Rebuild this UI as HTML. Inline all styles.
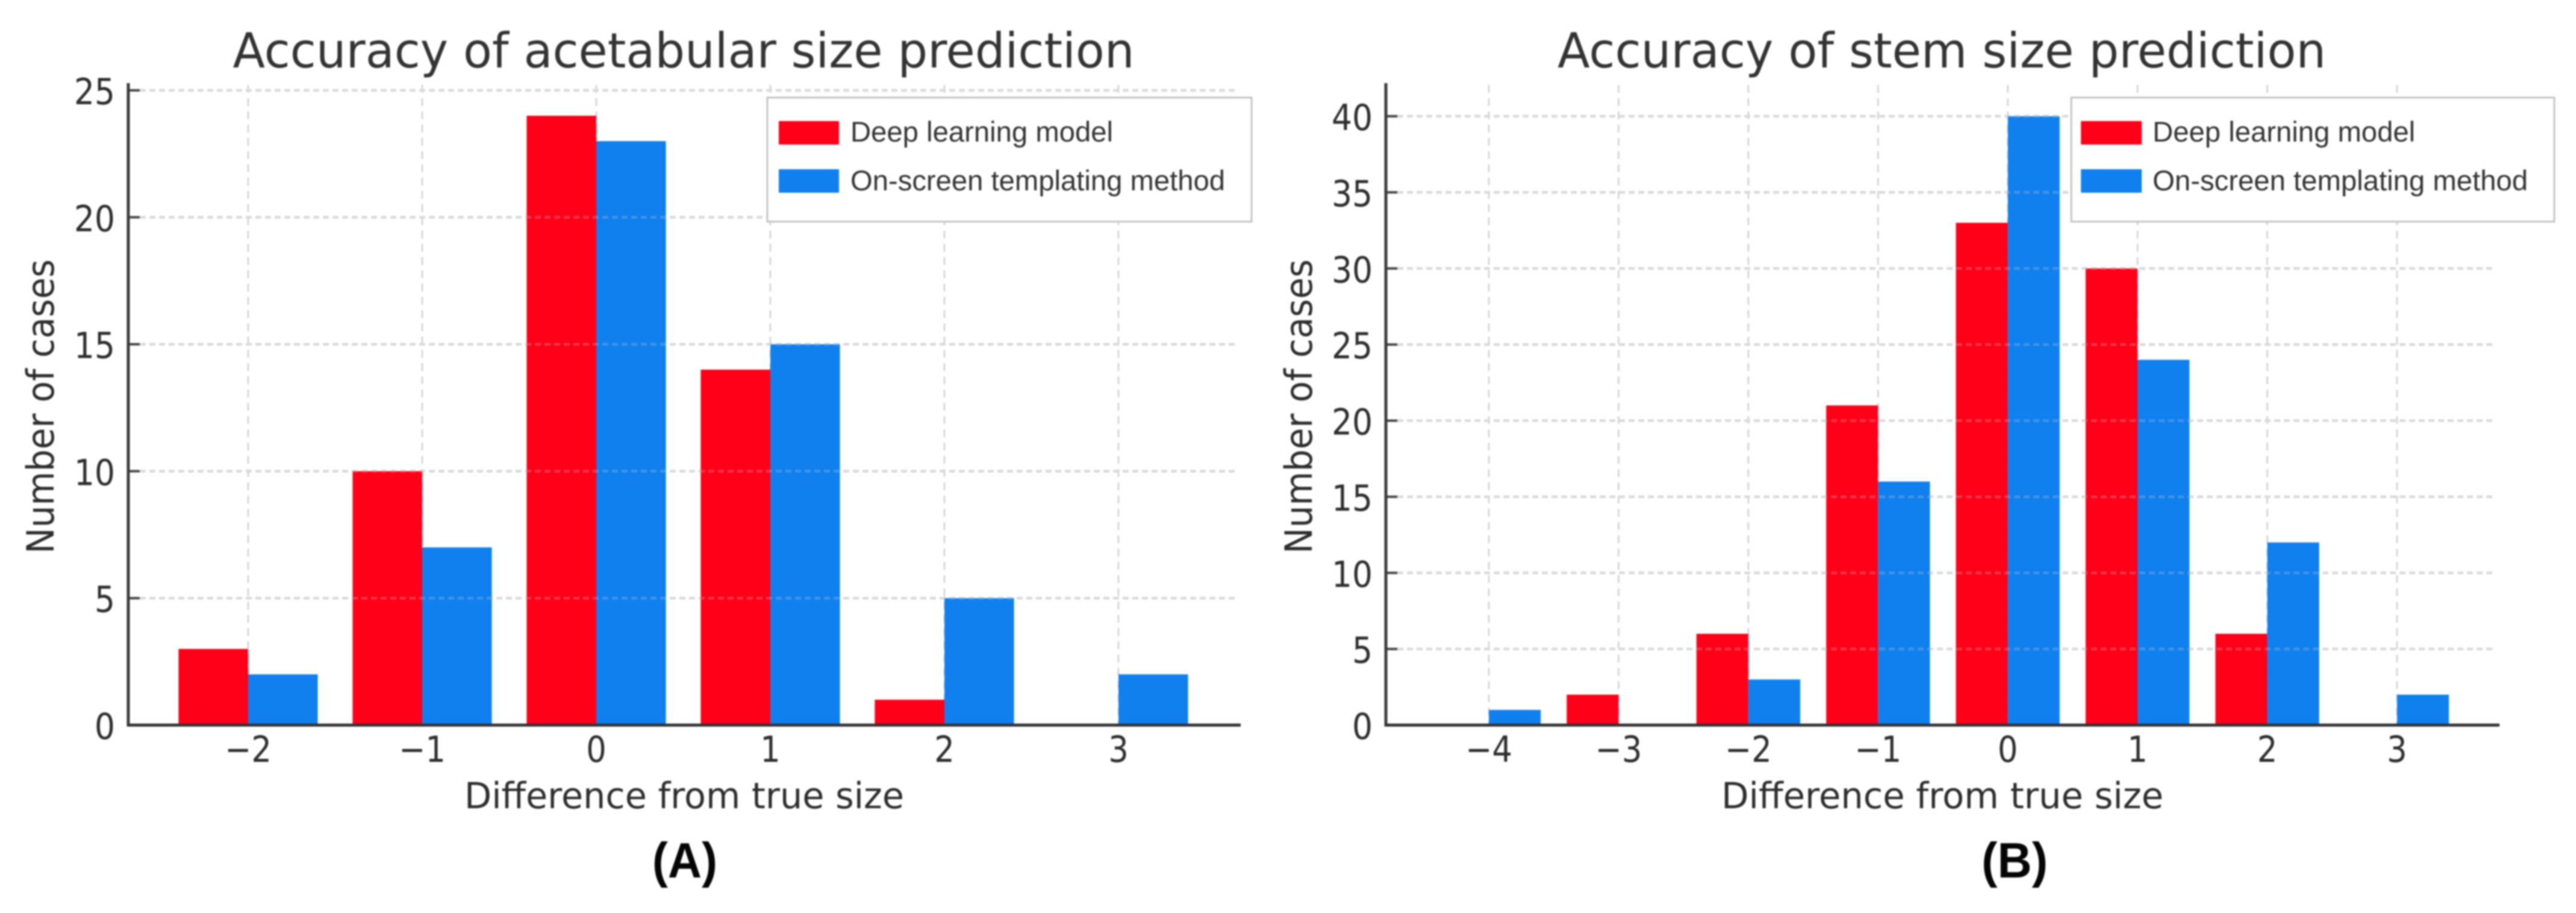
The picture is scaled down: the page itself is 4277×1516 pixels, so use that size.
<!DOCTYPE html>
<html>
<head>
<meta charset="utf-8">
<title>Accuracy of size prediction</title>
<style>
html,body{margin:0;padding:0;background:#fff;}
svg{display:block;filter:blur(1.4px);}
text{font-family:"DejaVu Sans",sans-serif;fill:#2d2d2d;}
.lg{font-family:"Liberation Sans",sans-serif;font-size:47px;fill:#333;}
.bold{font-family:"Liberation Sans",sans-serif;font-weight:bold;font-size:83px;fill:#050505;}
</style>
</head>
<body>
<svg id="figure" xmlns="http://www.w3.org/2000/svg" width="4277" height="1516" viewBox="0 0 4277 1516">
<rect width="4277" height="1516" fill="#fff"/>
<g id="panel-a">
  <g id="a-grid"></g>
  <g id="a-bars"></g>
  <g id="a-overgrid"></g>
  <g id="a-axes"></g>
  <text x="1135" y="112" font-size="80" text-anchor="middle" textLength="1497" lengthAdjust="spacingAndGlyphs" style="fill:#333">Accuracy of acetabular size prediction</text>
  <text x="1136" y="1342" font-size="60" text-anchor="middle" textLength="730" lengthAdjust="spacingAndGlyphs">Difference from true size</text>
  <text transform="translate(89,675) rotate(-90)" font-size="62" text-anchor="middle" textLength="489" lengthAdjust="spacingAndGlyphs">Number of cases</text>
  <g>
    <rect x="1274" y="162" width="804" height="206" fill="#fff" stroke="#c4c4c4" stroke-width="3"/>
    <rect x="1293" y="201" width="100" height="39" fill="#ff0018"/>
    <text class="lg" x="1412" y="235" textLength="436" lengthAdjust="spacingAndGlyphs">Deep learning model</text>
    <rect x="1293" y="281" width="100" height="39" fill="#1080ee"/>
    <text class="lg" x="1412" y="316" textLength="622" lengthAdjust="spacingAndGlyphs">On-screen templating method</text>
  </g>
  <text class="bold" x="1137" y="1457" text-anchor="middle" textLength="108" lengthAdjust="spacingAndGlyphs">(A)</text>
</g>
<g id="panel-b">
  <g id="b-grid"></g>
  <g id="b-bars"></g>
  <g id="b-overgrid"></g>
  <g id="b-axes"></g>
  <text x="3224" y="112" font-size="80" text-anchor="middle" textLength="1276" lengthAdjust="spacingAndGlyphs" style="fill:#333">Accuracy of stem size prediction</text>
  <text x="3225" y="1342" font-size="60" text-anchor="middle" textLength="734" lengthAdjust="spacingAndGlyphs">Difference from true size</text>
  <text transform="translate(2178,675) rotate(-90)" font-size="62" text-anchor="middle" textLength="489" lengthAdjust="spacingAndGlyphs">Number of cases</text>
  <g>
    <rect x="3439" y="162" width="802" height="206" fill="#fff" stroke="#c4c4c4" stroke-width="3"/>
    <rect x="3455" y="201" width="101" height="39" fill="#ff0018"/>
    <text class="lg" x="3574" y="235" textLength="436" lengthAdjust="spacingAndGlyphs">Deep learning model</text>
    <rect x="3455" y="281" width="101" height="39" fill="#1080ee"/>
    <text class="lg" x="3574" y="316" textLength="623" lengthAdjust="spacingAndGlyphs">On-screen templating method</text>
  </g>
  <text class="bold" x="3345" y="1457" text-anchor="middle" textLength="110" lengthAdjust="spacingAndGlyphs">(B)</text>
</g>
</svg>
<script>
const acetabularCategories = [-2, -1, 0, 1, 2, 3];
const acetabularCategoryLabels = ["\u22122", "\u22121", "0", "1", "2", "3"];
const acetabularDeepLearning = [3, 10, 24, 14, 1, 0];
const acetabularTemplating = [2, 7, 23, 15, 5, 2];
const acetabularYTicks = [0, 5, 10, 15, 20, 25];

const stemCategories = [-4, -3, -2, -1, 0, 1, 2, 3];
const stemCategoryLabels = ["\u22124", "\u22123", "\u22122", "\u22121", "0", "1", "2", "3"];
const stemDeepLearning = [0, 2, 6, 21, 33, 30, 6, 0];
const stemTemplating = [1, 0, 3, 16, 40, 24, 12, 2];
const stemYTicks = [0, 5, 10, 15, 20, 25, 30, 35, 40];

const SVG_NS = "http://www.w3.org/2000/svg";
function make(tag, attrs, parent) {
  const el = document.createElementNS(SVG_NS, tag);
  for (const k in attrs) el.setAttribute(k, attrs[k]);
  parent.appendChild(el);
  return el;
}

function drawPanel(prefix, categories, labels, seriesRed, seriesBlue, yTicks, layout) {
  const xScale = v => layout.xFirst + (v - categories[0]) * layout.xUnit;
  const yScale = v => layout.yZero - v * layout.yUnit;
  const barWidth = layout.xUnit * 0.4;
  const grid = document.getElementById(prefix + "-grid");
  const bars = document.getElementById(prefix + "-bars");
  const over = document.getElementById(prefix + "-overgrid");
  const axes = document.getElementById(prefix + "-axes");

  categories.forEach(function (c, i) {
    const gv = make("line", {x1: xScale(c), x2: xScale(c), y1: layout.yTop + 3, y2: layout.yZero, stroke: "#d6d6d6", "stroke-width": 3, "stroke-dasharray": "13 9"}, grid);
    
    

    const redH = layout.yZero - yScale(seriesRed[i]);
    const red = make("rect", {x: xScale(c) - barWidth, y: yScale(seriesRed[i]), width: barWidth, height: redH, fill: "#ff0018"}, bars);
    
    

    const blueH = layout.yZero - yScale(seriesBlue[i]);
    const blue = make("rect", {x: xScale(c), y: yScale(seriesBlue[i]), width: barWidth, height: blueH, fill: "#1080ee"}, bars);
    
    

    const lab = make("text", {transform: "translate(" + xScale(c) + "," + (layout.yZero + 61) + ") scale(0.88,1)", "font-size": 60, "text-anchor": "middle"}, axes);
    lab.textContent = labels[i];
    
    
  });

  yTicks.forEach(function (t) {
    if (t > 0) {
      const gh = make("line", {x1: layout.axisX + 19, x2: layout.gridRight, y1: yScale(t), y2: yScale(t), stroke: "#dcdcdc", "stroke-width": 4.5, "stroke-dasharray": "10 6"}, grid);
      
      

      const oh = make("line", {x1: layout.axisX + 19, x2: layout.gridRight, y1: yScale(t), y2: yScale(t), stroke: "rgba(210,210,210,0.25)", "stroke-width": 4.5, "stroke-dasharray": "10 6"}, over);
      
      
    }
    const tk = make("line", {x1: layout.axisX, x2: layout.axisX + 19, y1: yScale(t), y2: yScale(t), stroke: "#444", "stroke-width": 4}, axes);
    
    

    const yl = make("text", {transform: "translate(" + layout.yLabelRight + "," + (yScale(t) + 23) + ") scale(0.89,1)", "font-size": 60, "text-anchor": "end"}, axes);
    yl.textContent = String(t);
    
    
  });

  const ya = make("line", {x1: layout.axisX, x2: layout.axisX, y1: layout.yTop, y2: layout.yZero + 2, stroke: "#3a3a3a", "stroke-width": 5}, axes);
  
  

  const xa = make("line", {x1: layout.axisX - 2, x2: layout.axisRight, y1: layout.yZero, y2: layout.yZero, stroke: "#333", "stroke-width": 5}, axes);
  
  
}

drawPanel("a", acetabularCategories, acetabularCategoryLabels, acetabularDeepLearning, acetabularTemplating, acetabularYTicks,
  {xFirst: 412, xUnit: 289, yZero: 1204, yUnit: 42.16, yTop: 138, axisX: 213, axisRight: 2060, gridRight: 2054, yLabelRight: 191});
drawPanel("b", stemCategories, stemCategoryLabels, stemDeepLearning, stemTemplating, stemYTicks,
  {xFirst: 2472, xUnit: 215.4, yZero: 1204, yUnit: 25.275, yTop: 138, axisX: 2301, axisRight: 4150, gridRight: 4143, yLabelRight: 2279});
</script>
</body>
</html>
